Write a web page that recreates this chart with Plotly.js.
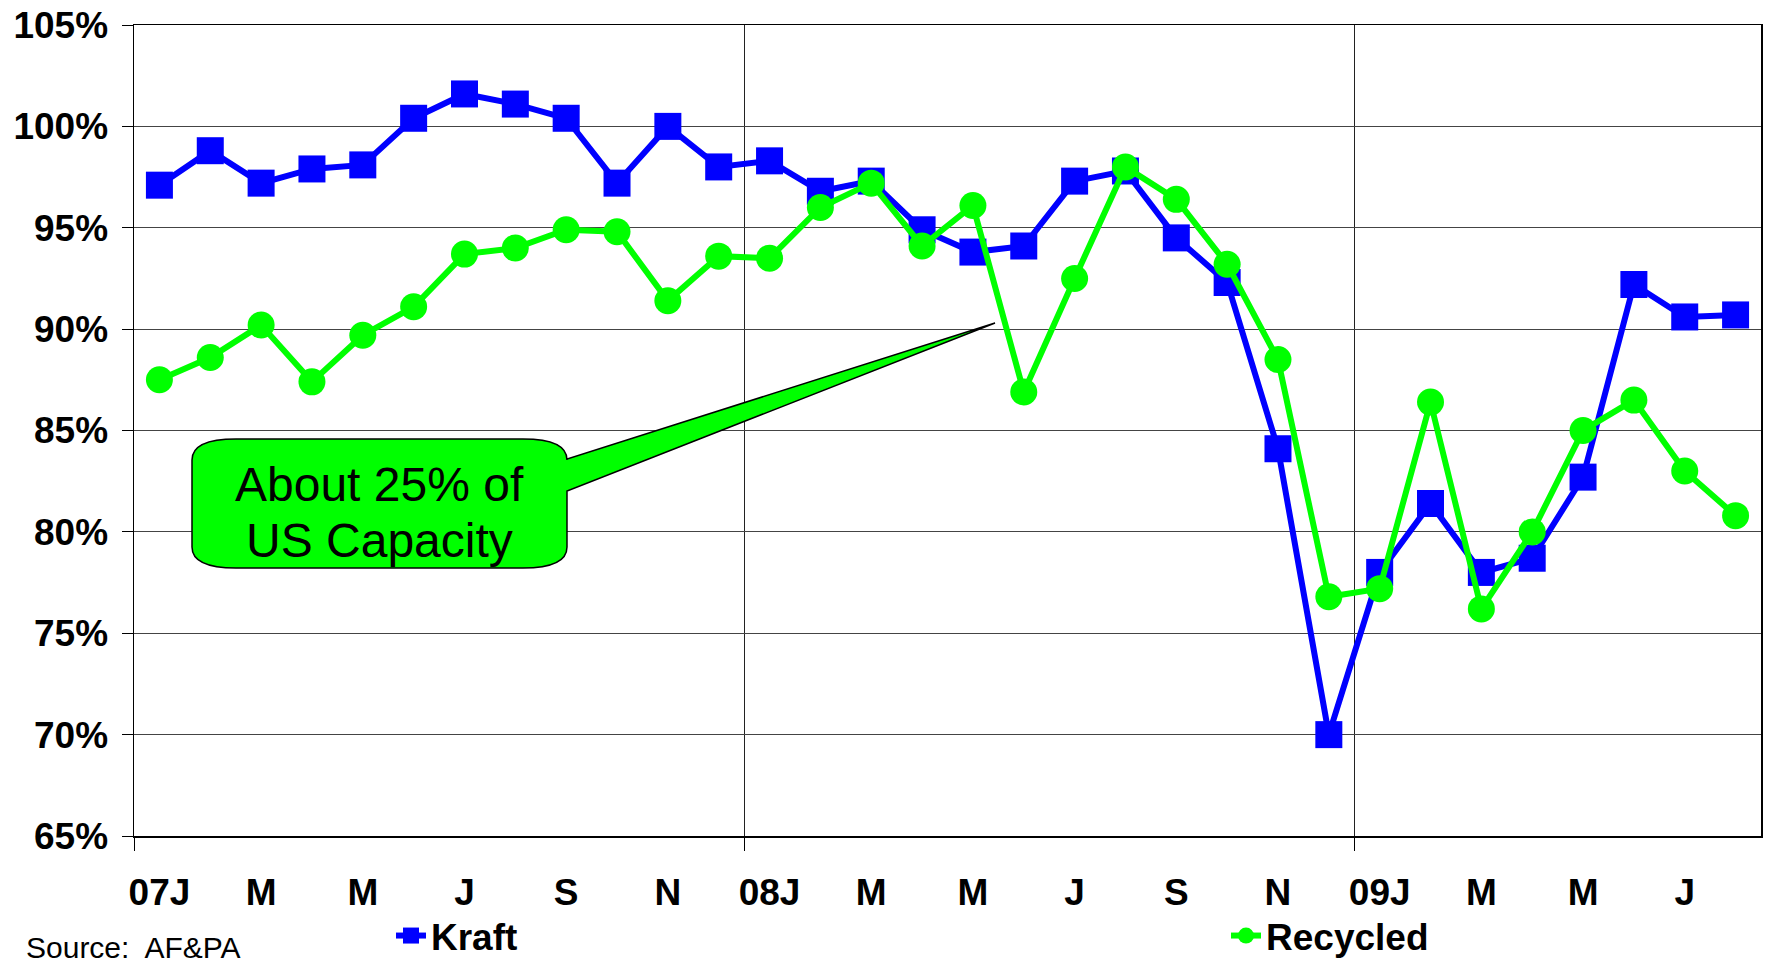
<!DOCTYPE html>
<html>
<head>
<meta charset="utf-8">
<script src="https://cdn.plot.ly/plotly-3.0.1.min.js"></script>
<style>
  html, body { margin: 0; padding: 0; background: #fff; }
  #chart { width: 1770px; height: 964px; }
</style>
</head>
<body>
<div id="chart"></div>
<script>
// ---- Data ----
const months = [
  'Jan-07','Feb-07','Mar-07','Apr-07','May-07','Jun-07','Jul-07','Aug-07','Sep-07','Oct-07','Nov-07','Dec-07',
  'Jan-08','Feb-08','Mar-08','Apr-08','May-08','Jun-08','Jul-08','Aug-08','Sep-08','Oct-08','Nov-08','Dec-08',
  'Jan-09','Feb-09','Mar-09','Apr-09','May-09','Jun-09','Jul-09','Aug-09'
];
const kraft = [
  97.1, 98.8, 97.2, 97.9, 98.1, 100.4, 101.6, 101.1, 100.4, 97.2, 100.0, 98.0,
  98.3, 96.8, 97.3, 94.9, 93.8, 94.1, 97.3, 97.8, 94.5, 92.3, 84.1, 70.0,
  78.0, 81.4, 78.0, 78.7, 82.7, 92.2, 90.6, 90.7
];
const recycled = [
  87.5, 88.6, 90.2, 87.4, 89.7, 91.1, 93.7, 94.0, 94.9, 94.8, 91.4, 93.6,
  93.5, 96.0, 97.2, 94.1, 96.1, 86.9, 92.5, 98.0, 96.4, 93.2, 88.5, 76.8,
  77.2, 86.4, 76.2, 80.0, 85.0, 86.5, 83.0, 80.8
];
const tickLabels = ['07J','M','M','J','S','N','08J','M','M','J','S','N','09J','M','M','J'];
const yearBoundaries = [-0.5, 11.5, 23.5];
const seriesNames = ['Kraft', 'Recycled'];
const calloutLines = ['About 25% of', 'US Capacity'];
const sourceText = 'Source:\u00a0 AF&PA';

// ---- Layout helpers (pixel -> paper) ----
const L = 134, T = 25, W = 1627, H = 811;
const px = X => (X - L) / W;
const py = Y => (T + H - Y) / H;

const idx = months.map((_, i) => i);
const tickvals = tickLabels.map((_, i) => i * 2);
const FONT = '"Liberation Sans", Arial, Helvetica, sans-serif';

const traces = [
  {
    x: idx, y: kraft, name: seriesNames[0], type: 'scatter', mode: 'lines+markers',
    line: { color: '#0000FF', width: 6 },
    marker: { symbol: 'square', size: 27, color: '#0000FF' },
    hoverinfo: 'skip', legend: 'legend'
  },
  {
    x: idx, y: recycled, name: seriesNames[1], type: 'scatter', mode: 'lines+markers',
    line: { color: '#00FF00', width: 6 },
    marker: { symbol: 'circle', size: 27, color: '#00FF00' },
    hoverinfo: 'skip', legend: 'legend2'
  }
];

// callout bubble with pointer
const bx0 = 192, bx1 = 567, by0 = 439, by1 = 568, rx = 44, ry = 21;
const wTop = 459, wBot = 491, tipX = 995, tipY = 323;
const P = (X, Y) => px(X).toFixed(5) + ',' + py(Y).toFixed(5);
const calloutPath =
  'M' + P(bx0 + rx, by0) +
  ' L' + P(bx1 - rx, by0) +
  ' Q' + P(bx1, by0) + ' ' + P(bx1, by0 + ry) +
  ' L' + P(bx1, wTop) +
  ' L' + P(tipX, tipY) +
  ' L' + P(bx1, wBot) +
  ' L' + P(bx1, by1 - ry) +
  ' Q' + P(bx1, by1) + ' ' + P(bx1 - rx, by1) +
  ' L' + P(bx0 + rx, by1) +
  ' Q' + P(bx0, by1) + ' ' + P(bx0, by1 - ry) +
  ' L' + P(bx0, by0 + ry) +
  ' Q' + P(bx0, by0) + ' ' + P(bx0 + rx, by0) + ' Z';

const legendFont = { family: FONT, size: 37, weight: 700, color: '#000' };

const layout = {
  width: 1770, height: 964,
  margin: { l: L, r: 1770 - L - W, t: T, b: 964 - T - H, pad: 0, autoexpand: false },
  paper_bgcolor: '#fff', plot_bgcolor: '#fff',
  font: { family: FONT, color: '#000' },
  showlegend: true,
  legend: {
    orientation: 'h', x: px(391), xanchor: 'left', y: py(936), yanchor: 'middle',
    font: legendFont, bgcolor: 'rgba(0,0,0,0)', itemclick: false
  },
  legend2: {
    orientation: 'h', x: px(1226), xanchor: 'left', y: py(936), yanchor: 'middle',
    font: legendFont, bgcolor: 'rgba(0,0,0,0)', itemclick: false
  },
  xaxis: {
    range: [-0.5, 31.5], fixedrange: true,
    tickmode: 'array', tickvals: tickvals, ticktext: tickLabels,
    ticks: '', showgrid: false, zeroline: false,
    showline: true, linecolor: '#000', linewidth: 1.5, mirror: true,
    tickfont: { family: FONT, size: 37, weight: 700, color: '#000' },
    ticklabelstandoff: 23,
    minor: {
      tickmode: 'array', tickvals: yearBoundaries,
      ticks: 'outside', ticklen: 13, tickwidth: 1, tickcolor: '#000',
      showgrid: true, gridcolor: '#222', gridwidth: 1
    }
  },
  yaxis: {
    range: [65, 105], fixedrange: true,
    tickmode: 'linear', tick0: 65, dtick: 5, ticksuffix: '%',
    ticks: 'outside', ticklen: 11, tickwidth: 1, tickcolor: '#000',
    showgrid: true, gridcolor: '#444', gridwidth: 1,
    zeroline: false,
    showline: true, linecolor: '#000', linewidth: 1.5, mirror: true,
    tickfont: { family: FONT, size: 37, weight: 700, color: '#000' },
    ticklabelstandoff: 6
  },
  shapes: [
    {
      type: 'path', xref: 'paper', yref: 'paper', path: calloutPath,
      fillcolor: '#00FF00', line: { color: '#000', width: 1.5 }, layer: 'above'
    }
  ],
  annotations: [
    {
      xref: 'paper', yref: 'paper', x: px(379), y: py(484), xanchor: 'center', yanchor: 'middle',
      text: calloutLines[0], showarrow: false,
      font: { family: FONT, size: 48, color: '#000' }
    },
    {
      xref: 'paper', yref: 'paper', x: px(379), y: py(540), xanchor: 'center', yanchor: 'middle',
      text: calloutLines[1], showarrow: false,
      font: { family: FONT, size: 48, color: '#000' }
    },
    {
      xref: 'paper', yref: 'paper', x: px(24), y: py(929), xanchor: 'left', yanchor: 'top',
      text: sourceText, showarrow: false,
      font: { family: FONT, size: 30, color: '#000' }
    }
  ]
};

Plotly.newPlot('chart', traces, layout, { displayModeBar: false, staticPlot: true });
</script>
</body>
</html>
